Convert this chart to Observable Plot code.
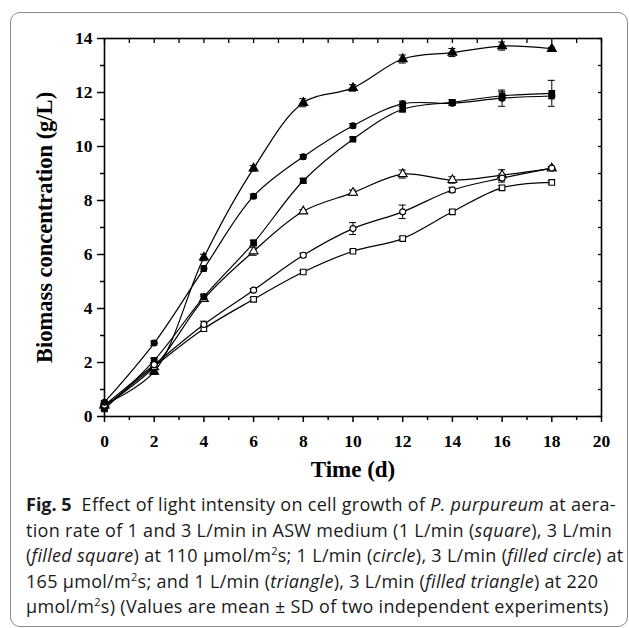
<!DOCTYPE html>
<html>
<head>
<meta charset="utf-8">
<script src="https://cdn.jsdelivr.net/npm/d3@7"></script>
<script src="https://cdn.jsdelivr.net/npm/@observablehq/plot@0.6"></script>
<style>
  html, body { margin: 0; padding: 0; background: #fff; }
  #wrap { position: relative; width: 629px; height: 628px; overflow: hidden; }
  #border { position: absolute; left: 10px; top: 12px; width: 618px; height: 615px;
            border: 1.5px solid #8a8a8a; border-radius: 10px; box-sizing: border-box; }
  #chart { position: absolute; left: 0; top: 0; }
  #caption { position: absolute; left: 26px; top: 492px; width: 600px;
             font-family: "Open Sans", "Noto Sans", sans-serif; font-size: 18px; line-height: 25.5px;
             letter-spacing: 0.3px; color: #1a1a1a; white-space: nowrap; }
  #caption b { font-weight: 700; letter-spacing: 0; }
  #caption sup { font-size: 11px; line-height: 0; vertical-align: 7px; }
</style>
</head>
<body>
<div id="wrap">
  <div id="border"></div>
  <div id="chart"></div>
  <div id="caption">
    <div><b>Fig. 5</b>&nbsp; Effect of light intensity on cell growth of <i>P. purpureum</i> at aera-</div>
    <div>tion rate of 1 and 3 L/min in ASW medium (1 L/min (<i>square</i>), 3 L/min</div>
    <div>(<i>filled square</i>) at 110 µmol/m<sup>2</sup>s; 1 L/min (<i>circle</i>), 3 L/min (<i>filled circle</i>) at</div>
    <div>165 µmol/m<sup>2</sup>s; and 1 L/min (<i>triangle</i>), 3 L/min (<i>filled triangle</i>) at 220</div>
    <div>µmol/m<sup>2</sup>s) (Values are mean ± SD of two independent experiments)</div>
  </div>
</div>
<script>
// ---- Data ----
const days = [0, 2, 4, 6, 8, 10, 12, 14, 16, 18];

// 110 µmol/m2s
const square1L  = [0.35, 1.85, 3.25, 4.34, 5.35, 6.12, 6.59, 7.58, 8.47, 8.67];
const square1Lsd = [0.05, 0.06, 0.10, 0.06, 0.06, 0.05, 0.06, 0.06, 0.08, 0.06];
const square3L  = [0.28, 2.08, 4.43, 6.43, 8.73, 10.27, 11.38, 11.64, 11.88, 11.97];
const square3Lsd = [0.05, 0.08, 0.10, 0.10, 0.08, 0.08, 0.10, 0.10, 0.15, 0.48];

// 165 µmol/m2s
const circle1L  = [0.42, 1.92, 3.41, 4.68, 5.97, 6.96, 7.58, 8.39, 8.83, 9.20];
const circle1Lsd = [0.05, 0.08, 0.12, 0.06, 0.08, 0.22, 0.25, 0.10, 0.15, 0.06];
const circle3L  = [0.53, 2.72, 5.48, 8.16, 9.62, 10.77, 11.58, 11.60, 11.79, 11.87];
const circle3Lsd = [0.05, 0.08, 0.10, 0.08, 0.08, 0.08, 0.10, 0.08, 0.30, 0.10];

// 220 µmol/m2s
const triangle1L  = [0.40, 1.83, 4.36, 6.12, 7.60, 8.29, 8.98, 8.76, 8.94, 9.19];
const triangle1Lsd = [0.05, 0.10, 0.10, 0.15, 0.06, 0.10, 0.15, 0.12, 0.20, 0.06];
const triangle3L  = [0.45, 1.66, 5.89, 9.19, 11.62, 12.17, 13.24, 13.48, 13.72, 13.62];
const triangle3Lsd = [0.05, 0.10, 0.12, 0.10, 0.15, 0.12, 0.15, 0.15, 0.15, 0.05];

const seriesNames = ["square1L", "square3L", "circle1L", "circle3L", "triangle1L", "triangle3L"];
const seriesValues = [square1L, square3L, circle1L, circle3L, triangle1L, triangle3L];
const seriesSD = [square1Lsd, square3Lsd, circle1Lsd, circle3Lsd, triangle1Lsd, triangle3Lsd];

const xMajor = [0, 2, 4, 6, 8, 10, 12, 14, 16, 18, 20];
const xMinor = [1, 3, 5, 7, 9, 11, 13, 15, 17, 19];
const yMajor = [0, 2, 4, 6, 8, 10, 12, 14];
const yMinor = [1, 3, 5, 7, 9, 11, 13];
const xAll = d3.range(0, 21);
const yAll = d3.range(0, 15);

const xLabel = "Time (d)";
const yLabel = "Biomass concentration (g/L)";

// ---- Styles (not data) ----
const symbolOf = {square1L: "square", square3L: "square", circle1L: "circle", circle3L: "circle", triangle1L: "triangle", triangle3L: "triangle"};
const filledOf = {square1L: false, square3L: true, circle1L: false, circle3L: true, triangle1L: false, triangle3L: true};
const rOf = {square: 5.0, circle: 4.6, triangle: 5.6};

const rows = [];
seriesNames.forEach((name, i) => {
  days.forEach((d, j) => {
    rows.push({series: name, day: d, value: seriesValues[i][j], sd: seriesSD[i][j]});
  });
});

const chart = Plot.plot({
  width: 629,
  height: 490,
  marginLeft: 104,
  marginRight: 28,
  marginTop: 38,
  marginBottom: 74,
  x: {domain: [0, 20]},
  y: {domain: [0, 14]},
  style: {fontFamily: "'Liberation Serif', 'Times New Roman', serif", fontSize: "17.5px", fontWeight: "bold", color: "black", background: "transparent"},
  marks: [
    // axes
    Plot.axisY({ticks: yMajor, tickSize: 7, tickPadding: 5, tickFormat: d => d, label: null, strokeWidth: 1.5}),
    Plot.axisY({ticks: yMinor, tickSize: 4, tickFormat: () => "", label: null, strokeWidth: 1.5}),
    Plot.axisX({ticks: xMajor, tickSize: 6, tickPadding: 12, tickFormat: d => d, label: null, strokeWidth: 1.5}),
    Plot.axisX({ticks: xMinor, tickSize: 4, tickFormat: () => "", label: null, strokeWidth: 1.5}),
    Plot.axisX({anchor: "top", ticks: xAll, tickSize: -4, tickFormat: () => "", label: null, strokeWidth: 1.3}),
    Plot.axisY({anchor: "right", ticks: yAll, tickSize: -4, tickFormat: () => "", label: null, strokeWidth: 1.3}),
    Plot.frame({stroke: "black", strokeWidth: 1.6}),
    // axis titles
    Plot.text([yLabel], {text: d => d, frameAnchor: "left", textAnchor: "middle", lineAnchor: "middle", dx: -60, rotate: -90, fontSize: 22.5, fontWeight: "bold"}),
    Plot.text([xLabel], {text: d => d, frameAnchor: "bottom", textAnchor: "middle", lineAnchor: "middle", dy: 53, fontSize: 23, fontWeight: "bold"}),
    // curves
    Plot.line(rows, {x: "day", y: "value", z: "series", curve: "catmull-rom", stroke: "black", strokeWidth: 1.2}),
    // error bars
    Plot.ruleX(rows, {x: "day", y1: d => d.value - d.sd, y2: d => d.value + d.sd, stroke: "black", strokeWidth: 1}),
    Plot.ruleY(rows, {x1: "day", x2: "day", y: d => d.value - d.sd, insetLeft: -3.5, insetRight: -3.5, stroke: "black", strokeWidth: 1}),
    Plot.ruleY(rows, {x1: "day", x2: "day", y: d => d.value + d.sd, insetLeft: -3.5, insetRight: -3.5, stroke: "black", strokeWidth: 1}),
    // markers
    Plot.dot(rows, {
      x: "day", y: "value",
      symbol: d => symbolOf[d.series],
      r: d => rOf[symbolOf[d.series]],
      fill: d => filledOf[d.series] ? "black" : "white",
      stroke: "black", strokeWidth: 1.1
    })
  ]
});
document.getElementById("chart").appendChild(chart);
</script>
</body>
</html>
